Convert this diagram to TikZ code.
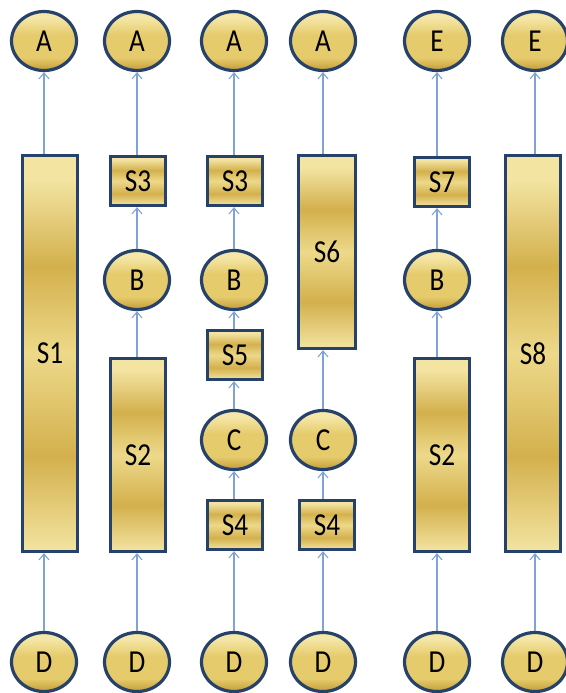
\documentclass[tikz,border=0pt]{standalone}
\usepackage{fontspec}
\setmainfont{Carlito}[FakeStretch=0.85]
\usetikzlibrary{shapes.geometric,arrows.meta}
\definecolor{goldlight}{HTML}{F3E4A2}
\definecolor{goldmid}{HTML}{EDD98A}
\definecolor{golddark}{HTML}{D3B04C}
\definecolor{cgoldtop}{HTML}{F5E7A8}
\definecolor{cgoldmid}{HTML}{E6CB6C}
\definecolor{cgoldbot}{HTML}{C49C36}
\definecolor{edgeblue}{HTML}{26426A}
\definecolor{arrowblue}{HTML}{7FA3D8}
\pgfdeclareverticalshading{goldbar}{100bp}{color(0bp)=(goldlight); color(25bp)=(goldlight); color(37bp)=(golddark); color(50bp)=(goldmid); color(61bp)=(golddark); color(72bp)=(goldlight); color(75bp)=(goldlight); color(100bp)=(goldlight)}
\pgfdeclareverticalshading{goldball}{100bp}{color(0bp)=(cgoldbot); color(25bp)=(cgoldbot); color(36bp)=(cgoldmid); color(55bp)=(cgoldmid); color(70bp)=(cgoldtop); color(75bp)=(cgoldtop); color(100bp)=(cgoldtop)}
\tikzset{
  gold/.style={draw=edgeblue, line width=3.2pt, font=\fontsize{32}{34}\selectfont, inner sep=0pt},
  circ/.style={gold, ellipse, shading=goldball, minimum width=65pt, minimum height=59pt},
  box/.style={gold, rectangle, shading=goldbar, minimum width=55pt},
  flow/.style={draw=arrowblue, line width=1.1pt, -{Straight Barb[length=6pt,width=10pt]}}
}
\begin{document}
\begin{tikzpicture}[x=1pt,y=-1pt]
\useasboundingbox (0,0) rectangle (565,693);
% top circles
\node[circ] (A1) at (44,41) {A};
\node[circ] (A2) at (137,41) {A};
\node[circ] (A3) at (234,41) {A};
\node[circ] (A4) at (323,41) {A};
\node[circ] (E5) at (437,41) {E};
\node[circ] (E6) at (535,41) {E};
% bottom circles
\node[circ] (D1) at (44,662) {D};
\node[circ] (D2) at (137,662) {D};
\node[circ] (D3) at (234,662) {D};
\node[circ] (D4) at (323,662) {D};
\node[circ] (D5) at (437,662) {D};
\node[circ] (D6) at (535,662) {D};
% column 1
\node[box, minimum height=396pt] (S1) at (50,353.5) {S1};
% column 2
\node[box, minimum height=49pt] (S3a) at (138,181) {S3};
\node[circ] (B2) at (137,280) {B};
\node[box, minimum height=193pt] (S2a) at (138,455) {S2};
% column 3
\node[box, minimum height=49pt] (S3b) at (235,181) {S3};
\node[circ] (B3) at (234,280) {B};
\node[box, minimum height=49pt] (S5) at (235,355) {S5};
\node[circ] (C3) at (234,440) {C};
\node[box, minimum height=49pt] (S4a) at (235,525) {S4};
% column 4
\node[box, minimum height=193pt, minimum width=57pt] (S6) at (327,252) {S6};
\node[circ] (C4) at (323,440) {C};
\node[box, minimum height=49pt] (S4b) at (327,525) {S4};
% column 5
\node[box, minimum height=49pt] (S7) at (442,182) {S7};
\node[circ] (B5) at (437,280) {B};
\node[box, minimum height=193pt] (S2b) at (442,455) {S2};
% column 6
\node[box, minimum height=396pt] (S8) at (533,353.5) {S8};
% connectors
\draw[flow] (D1.north) -- (D1.north |- S1.south);
\draw[flow] (S1.north -| A1.south) -- (A1.south);
\draw[flow] (D2.north) -- (D2.north |- S2a.south);
\draw[flow] (S2a.north -| B2.south) -- (B2.south);
\draw[flow] (B2.north) -- (B2.north |- S3a.south);
\draw[flow] (S3a.north -| A2.south) -- (A2.south);
\draw[flow] (D3.north) -- (D3.north |- S4a.south);
\draw[flow] (S4a.north -| C3.south) -- (C3.south);
\draw[flow] (C3.north) -- (C3.north |- S5.south);
\draw[flow] (S5.north -| B3.south) -- (B3.south);
\draw[flow] (B3.north) -- (B3.north |- S3b.south);
\draw[flow] (S3b.north -| A3.south) -- (A3.south);
\draw[flow] (D4.north) -- (D4.north |- S4b.south);
\draw[flow] (S4b.north -| C4.south) -- (C4.south);
\draw[flow] (C4.north) -- (C4.north |- S6.south);
\draw[flow] (S6.north -| A4.south) -- (A4.south);
\draw[flow] (D5.north) -- (D5.north |- S2b.south);
\draw[flow] (S2b.north -| B5.south) -- (B5.south);
\draw[flow] (B5.north) -- (B5.north |- S7.south);
\draw[flow] (S7.north -| E5.south) -- (E5.south);
\draw[flow] (D6.north) -- (D6.north |- S8.south);
\draw[flow] (S8.north -| E6.south) -- (E6.south);
\end{tikzpicture}
\end{document}
